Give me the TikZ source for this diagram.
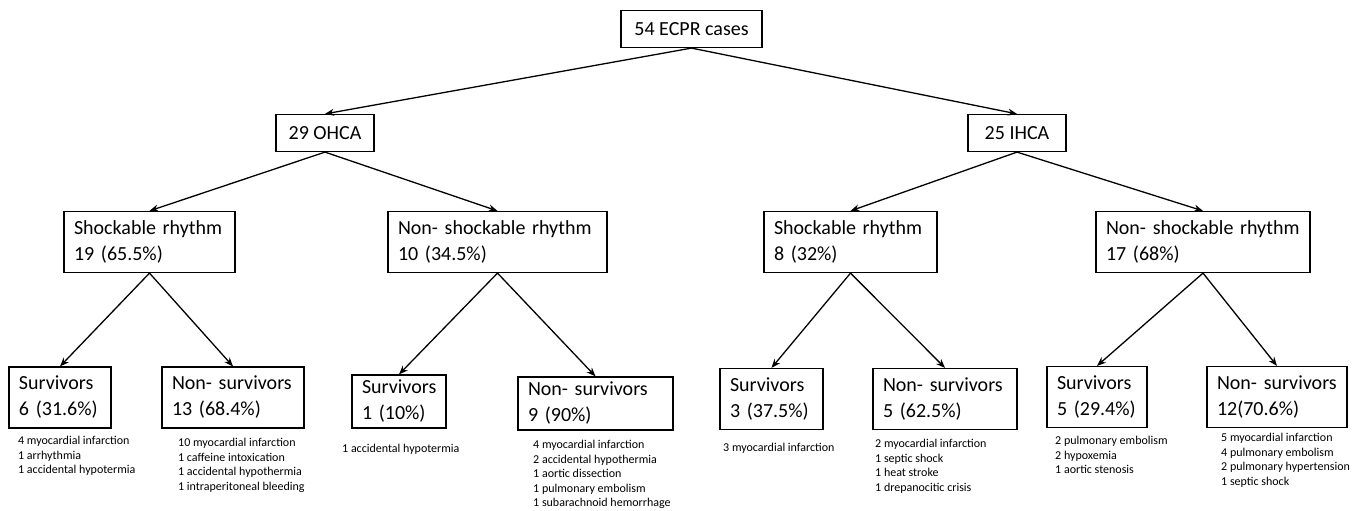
\documentclass[tikz,border=0pt]{standalone}
\usepackage{fontspec}
\setmainfont{Carlito}
\usepackage{xcolor}
\usetikzlibrary{arrows.meta}

\begin{document}
\begin{tikzpicture}[x=1pt, y=-1pt,
		box/.style={draw=black, line width=1.2pt, fill=white, align=left, inner xsep=10pt, inner ysep=0pt, font=\fontsize{20}{26}\selectfont},
		onebox/.style={box, minimum height=37pt, align=center},
		twobox/.style={box, minimum height=61pt},
		causes/.style={anchor=north west, align=left, inner sep=0pt, font=\fontsize{12}{14.6}\selectfont},
		arr/.style={-{Stealth[length=9pt, width=7pt]}, line width=1.3pt}]
		\useasboundingbox (0,0) rectangle (1357,511);
		% top and first split
		\node[onebox, minimum width=141pt] (cases) at (691.5,29) {54 ECPR cases};
		\node[onebox, minimum width=98pt] (ohca) at (325,133) {29 OHCA};
		\node[onebox, minimum width=98pt] (ihca) at (1017,133) {25 IHCA};
		% rhythm
		\node[twobox, text width=151pt] (shockO) at (149.5,242) {Shockable rhythm\\19 (65.5\%)};
		\node[twobox, text width=199pt] (nonshockO) at (497.5,242) {Non- shockable rhythm\\10 (34.5\%)};
		\node[twobox, text width=153pt] (shockI) at (850.5,242) {Shockable rhythm\\8 (32\%)};
		\node[twobox, text width=194pt] (nonshockI) at (1203,242) {Non- shockable rhythm\\17 (68\%)};
		% outcome
		\node[twobox, text width=82pt] (survA) at (60,397.5) {Survivors\\6 (31.6\%)};
		\node[twobox, text width=122pt] (nonsurvA) at (233,397.5) {Non- survivors\\13 (68.4\%)};
		\node[twobox, text width=74pt, minimum height=53pt] (survB) at (399,401.5) {Survivors\\1 (10\%)};
		\node[twobox, text width=135pt, minimum height=53pt] (nonsurvB) at (595.5,403.5) {Non- survivors\\9 (90\%)};
		\node[twobox, text width=83pt] (survC) at (771.5,399) {Survivors\\3 (37.5\%)};
		\node[twobox, text width=124pt] (nonsurvC) at (945,399) {Non- survivors\\5 (62.5\%)};
		\node[twobox, text width=80pt] (survD) at (1097,397) {Survivors\\5 (29.4\%)};
		\node[twobox, text width=120pt] (nonsurvD) at (1277,397) {Non- survivors\\12(70.6\%)};
		% causes
		\node[causes] (causeA) at (18,436) {4 myocardial infarction\\1 arrhythmia\\1 accidental hypotermia};
		\node[causes] (causeAn) at (178,438) {10 myocardial infarction\\1 caffeine intoxication\\1 accidental hypothermia\\1 intraperitoneal bleeding};
		\node[causes] (causeB) at (342,444) {1 accidental hypotermia};
		\node[causes] (causeBn) at (533,440) {4 myocardial infarction\\2 accidental hypothermia\\1 aortic dissection\\1 pulmonary embolism\\1 subarachnoid hemorrhage};
		\node[causes] (causeC) at (723,443) {3 myocardial infarction};
		\node[causes] (causeCn) at (875,439) {2 myocardial infarction\\1 septic shock\\1 heat stroke\\1 drepanocitic crisis};
		\node[causes] (causeD) at (1055,436) {2 pulmonary embolism\\2 hypoxemia\\1 aortic stenosis};
		\node[causes] (causeDn) at (1221,433) {5 myocardial infarction\\4 pulmonary embolism\\2 pulmonary hypertension\\1 septic shock};
		% arrows
		\draw[arr] (cases.south) -- (ohca.north);
		\draw[arr] (cases.south) -- (ihca.north);
		\draw[arr] (ohca.south) -- (shockO.north);
		\draw[arr] (ohca.south) -- (nonshockO.north);
		\draw[arr] (ihca.south) -- (shockI.north);
		\draw[arr] (ihca.south) -- (nonshockI.north);
		\draw[arr] (shockO.south) -- (survA.north);
		\draw[arr] (shockO.south) -- (nonsurvA.north);
		\draw[arr] (nonshockO.south) -- (survB.north);
		\draw[arr] (nonshockO.south) -- (nonsurvB.north);
		\draw[arr] (shockI.south) -- (survC.north);
		\draw[arr] (shockI.south) -- (nonsurvC.north);
		\draw[arr] (nonshockI.south) -- (survD.north);
		\draw[arr] (nonshockI.south) -- (nonsurvD.north);
\end{tikzpicture}
\end{document}
